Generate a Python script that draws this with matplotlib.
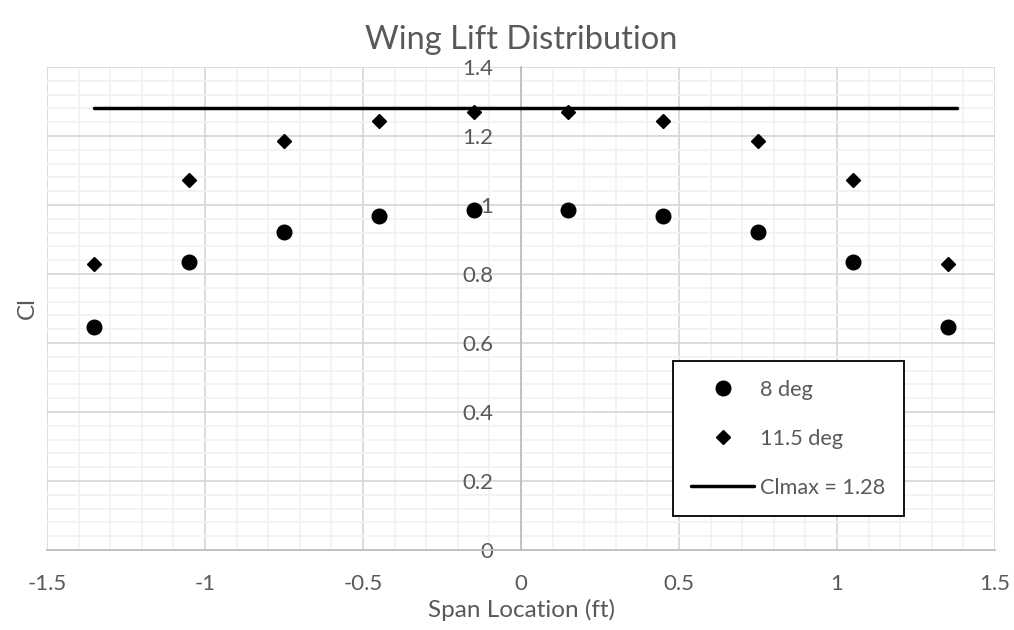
import matplotlib.pyplot as plt
from matplotlib.ticker import MultipleLocator, FixedLocator

plt.rcParams['font.family'] = ['Lato', 'DejaVu Sans']

# data
span = [-1.35, -1.05, -0.75, -0.45, -0.15, 0.15, 0.45, 0.75, 1.05, 1.35]
cl_8deg = [0.646, 0.835, 0.922, 0.968, 0.986, 0.986, 0.968, 0.922, 0.835, 0.646]
cl_115deg = [0.829, 1.072, 1.186, 1.243, 1.270, 1.270, 1.243, 1.186, 1.072, 0.829]
clmax_x = [-1.35, 1.38]
clmax_y = [1.28, 1.28]

x_ticks = [-1.5, -1, -0.5, 0, 0.5, 1, 1.5]
y_ticks = [0, 0.2, 0.4, 0.6, 0.8, 1.0, 1.2, 1.4]

txt = '#595959'

fig = plt.figure(figsize=(10.14, 6.30), dpi=100)
ax = fig.add_axes([0.0464, 0.127, 0.9349, 0.7667])

ax.set_xlim(-1.5, 1.5)
ax.set_ylim(0, 1.4)

# grid
ax.xaxis.set_major_locator(FixedLocator(x_ticks))
ax.yaxis.set_major_locator(FixedLocator(y_ticks))
ax.xaxis.set_minor_locator(MultipleLocator(0.1))
ax.yaxis.set_minor_locator(MultipleLocator(0.04))
ax.grid(which='minor', color='#f2f2f2', linewidth=1.3, zorder=0)
ax.grid(which='major', color='#d9d9d9', linewidth=1.3, zorder=0)
ax.set_axisbelow(True)

for s in ['top', 'right']:
    ax.spines[s].set_visible(False)
ax.spines['left'].set_position(('data', 0))
ax.spines['left'].set_color('#bfbfbf')
ax.spines['left'].set_linewidth(1.3)
ax.spines['bottom'].set_color('#bfbfbf')
ax.spines['bottom'].set_linewidth(1.3)

ax.set_xticklabels([f'{v:g}' for v in x_ticks])
ax.set_yticklabels([f'{v:g}' for v in y_ticks])
ax.tick_params(which='both', length=0)
ax.tick_params(axis='x', pad=17, labelsize=16, labelcolor=txt)
ax.tick_params(axis='y', pad=20, labelsize=16, labelcolor=txt)

ax.plot(span, cl_8deg, 'o', color='black', markersize=10.5, label='8 deg', zorder=3)
ax.plot(span, cl_115deg, 'D', color='black', markersize=7, label='11.5 deg', zorder=3)
ax.plot(clmax_x, clmax_y, '-', color='black', linewidth=2.5,
        solid_capstyle='round', label='Clmax = 1.28', zorder=3)

ax.set_title('Wing Lift Distribution', fontsize=23.5, color=txt, pad=13)
ax.set_xlabel('Span Location (ft)', fontsize=17.5, color=txt, labelpad=4)
ax.text(-0.021, 0.5, 'Cl', transform=ax.transAxes, rotation=90,
        fontsize=17.5, color=txt, ha='center', va='center')

leg = ax.legend(loc='upper left', bbox_to_anchor=(0.660, 0.391),
                borderaxespad=0, fontsize=15.6, frameon=True, fancybox=False,
                edgecolor='black', framealpha=1, labelcolor=txt,
                borderpad=0.85, labelspacing=1.35, handlelength=2.9,
                handletextpad=0.3)
leg.get_frame().set_linewidth(1.3)

fig.savefig('out.png', dpi=100)
